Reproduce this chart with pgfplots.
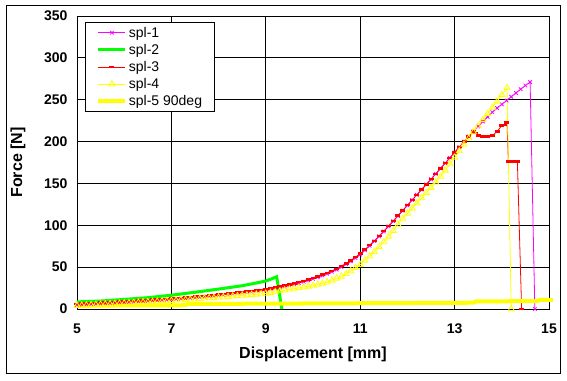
\documentclass[border=0pt]{standalone}
\usepackage{fontspec}
\setmainfont{Liberation Sans}
\usepackage{pgfplots}
\pgfplotsset{compat=1.18}
\definecolor{cMag}{RGB}{255,0,255}
\definecolor{cGreen}{RGB}{0,255,0}
\definecolor{cRed}{RGB}{255,0,0}
\definecolor{cYel}{RGB}{255,255,0}
\begin{document}
\begin{tikzpicture}[x=1pt,y=1pt]
\path[use as bounding box] (0,0) rectangle (567,380);
\draw[line width=1pt] (6,7) rectangle (560,374);
\begin{axis}[
  at={(77pt,71pt)}, anchor=south west,
  scale only axis, width=472pt, height=293pt,
  xmin=5, xmax=15, ymin=0, ymax=350,
  xtick={5,7,9,11,13,15}, ytick={0,50,100,150,200,250,300,350},
  grid=major, major grid style={black, line width=0.8pt},
  axis line style={black, line width=0.8pt},
  major tick length=0pt,
  clip=false,
  /pgf/number format/assume math mode=true,
  ticklabel style={font=\fontsize{14}{14}\selectfont\bfseries},
  xticklabel style={anchor=base, yshift=-24pt},
  yticklabel style={anchor=east, xshift=-6pt},
  xlabel={Displacement [mm]}, ylabel={Force [N]},
  label style={font=\fontsize{16}{16}\selectfont\bfseries},
  xlabel style={at={(axis description cs:0.5,-0.155)}, anchor=center},
  ylabel style={at={(axis description cs:-0.125,0.5)}, anchor=center},
  legend style={at={(rel axis cs:0.017,0.9795)}, anchor=north west, draw=black, line width=0.8pt,
    font=\fontsize{14}{14}\selectfont, inner xsep=11pt, inner ysep=3pt, row sep=2.5pt,
    nodes={inner sep=1.5pt}, cells={anchor=west}},
  legend image code/.code={\draw[mark repeat=2,mark phase=2,#1] plot coordinates {(0pt,0pt) (13.5pt,0pt) (27pt,0pt)};},
]
\addplot[color=cMag, line width=0.8pt, mark=x, mark size=2.5pt, mark options={solid,line width=0.8pt}] coordinates {
(5.0,5.0) (5.1,5.3) (5.2,5.6) (5.3,5.9) (5.4,6.2) (5.5,6.5) (5.6,6.8) (5.7,7.1) (5.8,7.4) (5.9,7.7)
(6.0,8.0) (6.1,8.3) (6.2,8.7) (6.3,9.0) (6.4,9.4) (6.5,9.7) (6.6,10.1) (6.7,10.4) (6.8,10.8) (6.9,11.1)
(7.0,11.5) (7.1,11.9) (7.2,12.4) (7.3,12.8) (7.4,13.3) (7.5,13.8) (7.6,14.3) (7.7,14.8) (7.8,15.4) (7.9,15.9)
(8.0,16.5) (8.1,17.0) (8.2,17.6) (8.3,18.1) (8.4,18.7) (8.5,19.3) (8.6,19.9) (8.7,20.5) (8.8,21.2) (8.9,21.8)
(9.0,22.5) (9.1,23.5) (9.2,24.6) (9.3,25.7) (9.4,26.8) (9.5,28.0) (9.6,29.5) (9.7,31.0) (9.8,32.6) (9.9,34.3)
(10.0,36.0) (10.1,38.0) (10.2,40.0) (10.3,42.2) (10.4,44.5) (10.5,47.0) (10.6,50.2) (10.7,53.5) (10.8,57.0) (10.9,61.0)
(11.0,65.0) (11.1,70.2) (11.2,75.5) (11.3,81.0) (11.4,86.8) (11.5,92.6) (11.6,98.7) (11.7,104.9) (11.8,111.2) (11.9,117.5)
(12.0,123.8) (12.1,130.2) (12.2,136.4) (12.3,142.6) (12.4,148.8) (12.5,155.0) (12.6,161.4) (12.7,167.8) (12.8,174.2) (12.9,180.6)
(13.0,187.0) (13.1,193.5) (13.2,199.8) (13.3,206.0) (13.4,212.0) (13.5,218.0) (13.6,224.0) (13.7,229.5) (13.8,235.0) (13.9,240.0)
(14.0,244.5) (14.1,249.0) (14.2,253.5) (14.3,258.0) (14.4,262.5) (14.5,267.0) (14.6,271.0)
(14.7,0)
};
\addlegendentry{spl-1}
\addplot[color=cGreen, line width=3pt, no marks] coordinates {
(5.0,8.5) (5.5,9.5) (6.0,11.5) (6.5,13.5) (7.0,16.5) (7.5,20.0) (8.0,23.8) (8.5,27.8) (8.88,32.0) (9.0,33.5) (9.1,35.5) (9.23,38.5)
(9.34,0)
};
\addlegendentry{spl-2}
\addplot[color=cRed, line width=0.8pt, mark=-, mark size=2.5pt, mark options={solid,line width=2.5pt}] coordinates {
(5.0,6.0) (5.1,6.3) (5.2,6.6) (5.3,6.9) (5.4,7.2) (5.5,7.5) (5.6,7.8) (5.7,8.1) (5.8,8.4) (5.9,8.7)
(6.0,9.0) (6.1,9.3) (6.2,9.7) (6.3,10.0) (6.4,10.4) (6.5,10.7) (6.6,11.1) (6.7,11.4) (6.8,11.8) (6.9,12.1)
(7.0,12.5) (7.1,12.9) (7.2,13.4) (7.3,13.8) (7.4,14.3) (7.5,14.8) (7.6,15.3) (7.7,15.8) (7.8,16.4) (7.9,16.9)
(8.0,17.5) (8.1,18.0) (8.2,18.6) (8.3,19.1) (8.4,19.7) (8.5,20.3) (8.6,20.9) (8.7,21.5) (8.8,22.2) (8.9,22.8)
(9.0,23.5) (9.1,24.5) (9.2,25.6) (9.3,26.7) (9.4,27.8) (9.5,29.0) (9.6,30.5) (9.7,32.0) (9.8,33.6) (9.9,35.3)
(10.0,37.0) (10.1,39.0) (10.2,41.0) (10.3,43.2) (10.4,45.5) (10.5,48.0) (10.6,51.2) (10.7,54.5) (10.8,58.0) (10.9,62.0)
(11.0,66.0) (11.1,71.0) (11.2,76.2) (11.3,81.5) (11.4,87.2) (11.5,93.0) (11.6,99.0) (11.7,105.2) (11.8,111.4) (11.9,117.7)
(12.0,124.0) (12.1,130.2) (12.2,136.4) (12.3,142.6) (12.4,148.8) (12.5,155.0) (12.6,161.4) (12.7,167.8) (12.8,174.2) (12.9,180.6)
(13.0,187.0) (13.1,193.5) (13.2,199.8) (13.3,206.0) (13.4,212.0) (13.45,210) (13.5,207) (13.6,206) (13.7,206) (13.8,207)
(13.9,212) (14.0,219) (14.05,220) (14.11,223) (14.14,176) (14.24,176) (14.33,176) (14.42,0)
};
\addlegendentry{spl-3}
\addplot[color=cYel, line width=0.8pt, mark=triangle, mark size=3.5pt, mark options={solid,line width=0.8pt}] coordinates {
(5.0,4.0) (5.1,4.3) (5.2,4.6) (5.3,4.9) (5.4,5.2) (5.5,5.5) (5.6,5.8) (5.7,6.1) (5.8,6.4) (5.9,6.7)
(6.0,7.0) (6.1,7.3) (6.2,7.6) (6.3,7.9) (6.4,8.2) (6.5,8.5) (6.6,8.8) (6.7,9.1) (6.8,9.4) (6.9,9.7)
(7.0,10.0) (7.1,10.4) (7.2,10.8) (7.3,11.2) (7.4,11.6) (7.5,12.0) (7.6,12.4) (7.7,12.8) (7.8,13.2) (7.9,13.6)
(8.0,14.0) (8.1,14.4) (8.2,14.8) (8.3,15.3) (8.4,15.7) (8.5,16.2) (8.6,16.6) (8.7,17.1) (8.8,17.5) (8.9,18.0)
(9.0,18.5) (9.1,19.4) (9.2,20.4) (9.3,21.4) (9.4,22.4) (9.5,23.5) (9.6,24.4) (9.7,25.3) (9.8,26.1) (9.9,27.0)
(10.0,28.0) (10.1,29.3) (10.2,30.6) (10.3,32.0) (10.4,34.2) (10.5,36.6) (10.6,39.0) (10.7,42.0) (10.8,45.5) (10.9,49.2)
(11.0,53.0) (11.1,58.0) (11.2,63.0) (11.3,68.5) (11.4,74.2) (11.5,80.0) (11.6,86.5) (11.7,93.5) (11.8,101.0) (11.9,108.0)
(12.0,114.0) (12.1,120.2) (12.2,126.4) (12.3,132.6) (12.4,138.8) (12.5,145.0) (12.6,151.3) (12.7,158.2) (12.8,165.6) (12.9,173.2)
(13.0,181.0) (13.1,188.7) (13.2,196.4) (13.3,204.0) (13.4,211.4) (13.5,218.7) (13.6,226.0) (13.7,233.4) (13.8,240.7) (13.9,248.0)
(14.0,255.8) (14.11,264.0) (14.2,0)
};
\addlegendentry{spl-4}
\addplot[color=cYel, line width=4pt, no marks] coordinates {
(5.0,4.0) (7.3,4.5) (7.35,6.0) (9.5,6.5) (13.4,7.5) (13.45,9.0) (14.75,9.5) (14.8,11.0) (15.08,11.0)
};
\addlegendentry{spl-5 90deg}
\end{axis}
\end{tikzpicture}
\end{document}
